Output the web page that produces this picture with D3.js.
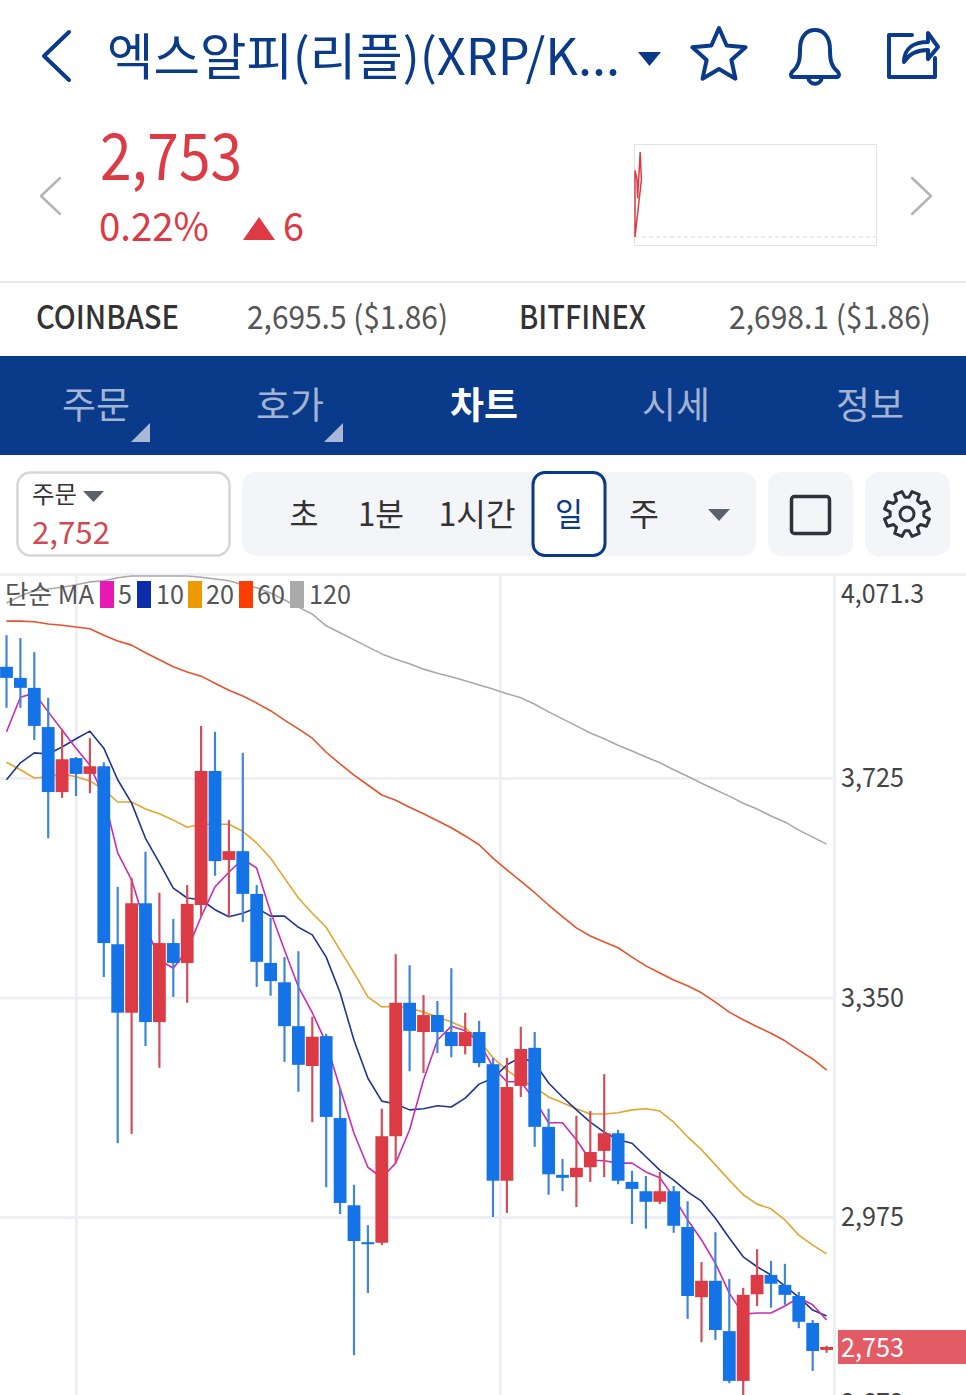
<!DOCTYPE html>
<html><head><meta charset="utf-8">
<script src="https://cdn.jsdelivr.net/npm/d3@7"></script>
<style>html,body{margin:0;padding:0;background:#fff;overflow:hidden}svg{display:block}</style>
</head><body><div id="c"></div>
<script>
const openP=[3915,3896,3879,3812,3701,3759,3732,3745,3441,3324,3511,3308,3443,3409,3508,3737,3585,3600,3527,3409,3376,3301,3233,3284,3144,2995,2932,2931,3113,3341,3291,3320,3291,3267,3291,3236,3037,3199,3264,3129,3047,3043,3060,3088,3118,3035,3019,3001,3019,2958,2838,2866,2780,2695,2843,2876,2859,2840,2794,2748];
const closeP=[3896,3879,3814,3701,3757,3732,3745,3443,3324,3511,3308,3443,3409,3510,3737,3583,3600,3527,3411,3378,3301,3235,3283,3146,2999,2934,2931,3113,3341,3293,3320,3291,3267,3291,3238,3037,3197,3262,3129,3048,3042,3059,3086,3118,3037,3023,3001,3019,2960,2840,2866,2782,2695,2842,2876,2861,2842,2796,2746,2753];
const highP=[3969,3964,3940,3862,3809,3761,3793,3752,3539,3554,3599,3529,3484,3542,3814,3804,3653,3768,3542,3486,3419,3429,3317,3288,3195,3030,2961,3160,3424,3405,3354,3344,3400,3324,3310,3247,3247,3300,3291,3160,3074,3148,3156,3219,3124,3054,3045,3052,3028,3002,2898,2949,2869,2854,2920,2900,2895,2847,2799,2755];
const lowP=[3845,3845,3790,3622,3691,3694,3699,3385,3101,3117,3267,3230,3351,3341,3488,3558,3488,3479,3368,3353,3240,3189,3137,3026,2980,2739,2845,2927,3067,3224,3221,3255,3248,3253,3231,2975,2982,3180,3095,3013,3019,2992,3035,3043,3031,2963,2955,2997,2948,2801,2761,2765,2691,2662,2823,2820,2825,2785,2712,2743];
const ma5=[3804,3863,3870,3838,3807,3776,3747,3693,3597,3551,3474,3414,3400,3431,3488,3539,3564,3587,3571,3496,3431,3368,3324,3272,3195,3118,3060,3042,3067,3124,3209,3277,3301,3293,3274,3231,3206,3206,3175,3136,3136,3107,3072,3071,3067,3067,3052,3042,3009,2970,2936,2896,2845,2809,2811,2811,2823,2837,2825,2799];
const ma10=[3722,3751,3768,3766,3778,3792,3805,3776,3722,3682,3622,3580,3537,3520,3517,3500,3488,3494,3503,3489,3489,3470,3457,3419,3358,3277,3212,3173,3168,3158,3160,3165,3163,3178,3202,3212,3235,3248,3238,3204,3180,3158,3137,3120,3107,3101,3078,3055,3038,3018,3002,2973,2939,2907,2890,2876,2857,2838,2816,2806];
const ma20=[3752,3739,3725,3727,3732,3727,3720,3705,3684,3684,3672,3664,3653,3641,3646,3646,3646,3634,3614,3588,3554,3520,3494,3470,3431,3392,3351,3334,3335,3332,3325,3317,3308,3298,3277,3247,3226,3209,3197,3180,3170,3160,3151,3151,3153,3158,3160,3156,3137,3112,3090,3064,3038,3013,2997,2989,2970,2944,2927,2912];
const ma60=[3993,3993,3992,3988,3986,3983,3980,3969,3959,3952,3939,3927,3915,3906,3899,3887,3875,3865,3853,3840,3824,3809,3793,3769,3749,3730,3713,3696,3687,3675,3664,3652,3640,3626,3611,3588,3568,3549,3529,3508,3488,3469,3455,3445,3435,3419,3404,3392,3380,3370,3358,3342,3325,3312,3300,3289,3276,3260,3245,3226];
const ma120=[4024,4036,4045,4048,4051,4055,4060,4062,4067,4070,4070,4070,4070,4070,4068,4065,4062,4055,4050,4041,4029,4017,4005,3985,3973,3961,3949,3937,3928,3920,3911,3904,3898,3891,3884,3877,3869,3862,3851,3838,3826,3814,3802,3792,3781,3771,3761,3751,3739,3728,3716,3705,3694,3682,3672,3660,3650,3636,3624,3612];
const priceTicks=[3725,3350,2975];
const maNames=["5","10","20","60","120"];
const maColors=["#c92db0","#1f3590","#e2a52e","#e6522a","#a9a9a9"];
const legendColors=["#e619b4","#0c2cab","#ec9a00","#ff3d00","#aaaaaa"];
const tabs=["주문","호가","차트","시세","정보"];
const periods=["초","1분","1시간","일","주"];
const sparkX=[0,0,1,1.3,2.6,3,3.2,0];
const sparkY=[2688,2760,2750,2730,2780,2760,2750,2688];

const W=966,H=1395,NAVY="#0a3a8a",RED="#dc3a44",KR="'Noto Sans CJK KR','Noto Sans',sans-serif";
const svg=d3.select("#c").append("svg").attr("width",W).attr("height",H).attr("viewBox",`0 0 ${W} ${H}`);
function t(s,x,y,size,fill,len,o={}){
  const e=svg.append("text").attr("x",x).attr("y",y).attr("font-size",size).attr("fill",fill)
    .attr("font-family",KR).attr("font-weight",o.w||400).attr("text-anchor",o.a||"start").text(s);
  if(len)e.attr("textLength",len).attr("lengthAdjust","spacingAndGlyphs");
  return e;
}
function poly(pts,fill){svg.append("path").attr("d",d3.line()(pts)+"Z").attr("fill",fill);}
function stroke(d,c,w,fill){return svg.append("path").attr("d",d).attr("fill",fill||"none").attr("stroke",c).attr("stroke-width",w).attr("stroke-linejoin","round").attr("stroke-linecap","round");}

/* header */
stroke("M69,32L44,56L69,80",NAVY,4);
t("엑스알피(리플)(XRP/K...",107,75,50,NAVY,513);
poly([[638,52],[661,52],[649.5,66]],NAVY);
const star=d3.range(10).map(i=>{const a=-Math.PI/2+i*Math.PI/5,r=i%2?13:28;return [719+r*Math.cos(a),56+r*Math.sin(a)];});
stroke(d3.line()(star)+"Z",NAVY,4);
stroke("M792,72c7,-6 8,-12 8,-22c0,-14 7,-20 15,-20c8,0 15,6 15,20c0,10 1,16 8,22c2,3 1,5 -2,5h-42c-3,0 -4,-2 -2,-5Z M808,77c1,9 13,9 14,0",NAVY,4);
stroke("M912,35H889V77H935V58",NAVY,4);
stroke("M904,62c0,-14 10,-20 24,-20v-9l10,14l-10,12v-9c-12,0 -19,4 -24,12Z",NAVY,4);

/* price block */
stroke("M60,178L41,196L60,214","#b5b5b5",2.5);
stroke("M912,178L931,196L912,214","#b5b5b5",2.5);
t("2,753",100,180,64,RED,142);
t("0.22%",99,241,39,RED,110);
poly([[243,240],[259,217],[275,240]],RED);
t("6",283,241,39,RED,21);
svg.append("rect").attr("x",634.5).attr("y",144.5).attr("width",242).attr("height",101).attr("fill","#fff").attr("stroke","#e3e3e3").attr("stroke-width",1);
svg.append("line").attr("x1",635).attr("x2",876).attr("y1",237).attr("y2",237).attr("stroke","#ddd").attr("stroke-dasharray","4 3");
const sx=d3.scaleLinear().domain([0,240]).range([635,875]);
const sy=d3.scaleLinear().domain([2688,2780]).range([237,152]);
svg.append("path").attr("d",d3.line().x(d=>sx(d[0])).y(d=>sy(d[1]))(sparkX.map((v,i)=>[v*2,sparkY[i]]))).attr("fill","none").attr("stroke",RED).attr("stroke-width",1.5);

/* exchange row */
svg.append("rect").attr("x",0).attr("y",281).attr("width",W).attr("height",2).attr("fill","#e8e8e8");
t("COINBASE",36,329,32,"#333",143,{w:500});
t("2,695.5 ($1.86)",247,329,32,"#555",201);
t("BITFINEX",519,329,32,"#333",127,{w:500});
t("2,698.1 ($1.86)",729,329,32,"#555",202);

/* nav */
svg.append("rect").attr("x",0).attr("y",356).attr("width",W).attr("height",99).attr("fill",NAVY);
const tabX=[96,290,484,676,870];
tabs.forEach((s,i)=>t(s,tabX[i],419,37,i==2?"#fff":"#a3b3d4",68,{a:"middle",w:i==2?700:400}).attr("x",tabX[i]-34).attr("text-anchor","start"));
[150,343].forEach(x=>poly([[x,423],[x,442],[x-19,442]],"#a9b8d6"));

/* control row */
svg.append("rect").attr("x",17.5).attr("y",472.5).attr("width",212).attr("height",83).attr("rx",13).attr("fill","#fff").attr("stroke","#d6d6d6").attr("stroke-width",2.5);
t("주문",32,503,24,"#333",45);
poly([[83,491],[104,491],[93.5,502]],"#5c6068");
t("2,752",32,544,31,"#d04a55",78);
svg.append("rect").attr("x",242).attr("y",472).attr("width",514).attr("height",84).attr("rx",14).attr("fill","#f3f5f8");
svg.append("rect").attr("x",533).attr("y",472.5).attr("width",72).attr("height",83).attr("rx",12).attr("fill","#fff").attr("stroke",NAVY).attr("stroke-width",3);
const perX=[304,381,477,569,644],perW=[29,46,77,28,30];
periods.forEach((s,i)=>t(s,perX[i]-perW[i]/2,526,32,i==3?NAVY:"#333",perW[i]));
poly([[708,509],[730,509],[719,521]],"#5c6068");
[768,865].forEach(x=>svg.append("rect").attr("x",x).attr("y",472).attr("width",85).attr("height",84).attr("rx",14).attr("fill","#f3f5f8"));
svg.append("rect").attr("x",791.5).attr("y",496.5).attr("width",38).attr("height",37).attr("rx",3).attr("fill","none").attr("stroke","#2f3238").attr("stroke-width",3.5);
const gear=[];d3.range(8).forEach(i=>{const a=i*Math.PI/4+Math.PI/8;[[-.27,17],[-.17,23],[.17,23],[.27,17]].forEach(([d,r])=>gear.push([907+r*Math.cos(a+d),514+r*Math.sin(a+d)]));});
stroke(d3.line()(gear)+"Z","#2f3238",3);
svg.append("circle").attr("cx",907).attr("cy",514).attr("r",7).attr("fill","none").attr("stroke","#2f3238").attr("stroke-width",3);

/* chart */
const x=d3.scaleLinear().domain([0,59]).range([6.5,826.6]);
const y=d3.scaleLinear().domain([3725,2975]).range([778,1217]);
const defs=svg.append("defs");
defs.append("clipPath").attr("id","plot").append("rect").attr("x",0).attr("y",575).attr("width",835).attr("height",820);
svg.append("rect").attr("x",0).attr("y",573).attr("width",W).attr("height",3).attr("fill","#eef0f5");
const plot=svg.append("g").attr("clip-path","url(#plot)");
plot.append("g").call(d3.axisRight(y).tickValues(priceTicks).tickSize(834).tickFormat("")).call(g=>{g.select(".domain").remove();g.selectAll("line").attr("stroke","#eef0f5").attr("stroke-width",3);});
[5,35.5].forEach(v=>plot.append("line").attr("x1",x(v)+.5).attr("x2",x(v)+.5).attr("y1",575).attr("y2",H).attr("stroke","#eef0f5").attr("stroke-width",3));
svg.append("line").attr("x1",834.5).attr("x2",834.5).attr("y1",575).attr("y2",H).attr("stroke","#eef0f5").attr("stroke-width",3);
const lineGen=d3.line().x((d,i)=>x(i)).y(d=>y(d));
[ma120,ma60,ma20,ma10,ma5].forEach((a,k)=>plot.append("path").attr("d",lineGen(a)).attr("fill","none").attr("stroke",maColors[4-k]).attr("stroke-width",1.6).attr("stroke-linejoin","round"));
const idx=d3.range(openP.length);
const col=i=>closeP[i]>=openP[i]?"#dc3a44":"#1473e6",wick=i=>closeP[i]>=openP[i]?"#cf4f5a":"#3f86d8";
plot.selectAll("line.w").data(idx).join("line").attr("class","w").attr("x1",x).attr("x2",x).attr("y1",i=>y(highP[i])).attr("y2",i=>y(lowP[i])).attr("stroke",wick).attr("stroke-width",2.2);
plot.selectAll("rect.b").data(idx).join("rect").attr("class","b").attr("x",i=>x(i)-6.4).attr("width",12.8).attr("y",i=>y(Math.max(openP[i],closeP[i]))).attr("height",i=>Math.max(2,Math.abs(y(openP[i])-y(closeP[i])))).attr("fill",col);

/* right axis */
const ax=svg.append("g").attr("transform","translate(841,0)").call(d3.axisRight(y).tickValues(priceTicks).tickSize(0).tickPadding(0).tickFormat(d3.format(",")));
ax.select(".domain").remove();
ax.selectAll("text").attr("font-family",KR).attr("font-size",27).attr("fill","#444").attr("textLength",63).attr("lengthAdjust","spacingAndGlyphs");
t("4,071.3",841,603,27,"#444",83);
t("2,672",841,1412,27,"#444",63);
svg.append("rect").attr("x",838).attr("y",1330).attr("width",128).attr("height",34).attr("fill","#e25b65");
t("2,753",841,1357,27,"#fff",63);

/* legend */
t("단순 MA",5,604,26,"#555",89);
const swX=[100,137,188,239,290],lblX=[118,156,206,257,309],lblW=[14,28,28,28,42];
maNames.forEach((s,i)=>{
  svg.append("rect").attr("x",swX[i]).attr("y",581).attr("width",14).attr("height",27).attr("fill",legendColors[i]);
  t(s,lblX[i],604,26,"#555",lblW[i]);
});
</script></body></html>
